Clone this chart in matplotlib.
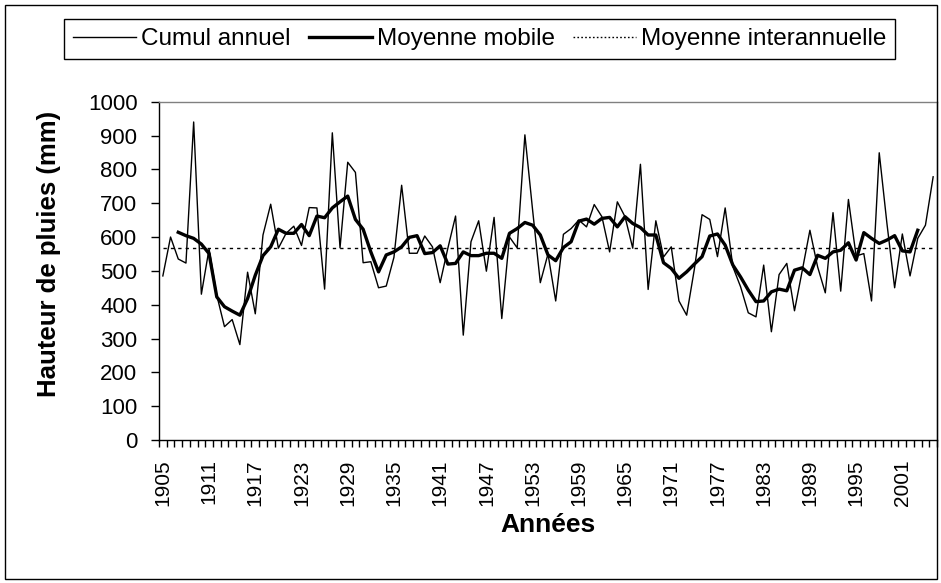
import numpy as np
import matplotlib.pyplot as plt
from matplotlib.patches import Rectangle
from matplotlib.lines import Line2D

plt.rcParams['font.family'] = ['Liberation Sans', 'DejaVu Sans']

# --- Data ---
years = list(range(1905, 2006))

cumul = [485, 600, 535, 523, 940, 431, 565, 428, 335, 356,
         282, 496, 373, 606, 697, 567, 611, 632, 575, 687,
         686, 446, 908, 568, 821, 791, 524, 527, 450, 455,
         540, 753, 552, 552, 603, 571, 465, 567, 662, 310,
         586, 648, 499, 658, 359, 600, 568, 902, 680, 465,
         550, 411, 608, 625, 650, 630, 696, 660, 556, 704,
         660, 567, 815, 445, 648, 541, 571, 411, 369, 505,
         666, 652, 542, 686, 512, 453, 376, 364, 517, 320,
         489, 522, 382, 500, 620, 512, 435, 672, 440, 711,
         544, 551, 411, 849, 640, 450, 609, 485, 596, 635,
         778]

moy_mobile = [np.nan, np.nan,
              614, 604, 596, 579, 551, 423, 394, 381,
              369, 418, 487, 545, 571, 623, 611, 611, 637, 604,
              662, 657, 686, 704, 721, 652, 623, 556, 497, 547,
              556, 571, 599, 604, 551, 554, 574, 520, 522, 556,
              545, 545, 552, 552, 537, 611, 625, 643, 635, 606,
              547, 530, 569, 586, 647, 653, 638, 655, 658, 630,
              660, 640, 628, 606, 606, 524, 507, 478, 497, 520,
              542, 603, 609, 576, 517, 482, 443, 409, 411, 438,
              446, 441, 502, 509, 489, 546, 537, 556, 561, 583,
              532, 613, 596, 581, 591, 604, 559, 556, 620,
              np.nan, np.nan]

moy_inter = 567

label_years = years[::6]

# --- Figure ---
fig = plt.figure(figsize=(9.41, 5.83), dpi=100)
ax = fig.add_axes([159 / 941, 1 - 440 / 583, 778 / 941, 338.3 / 583])

ax.plot(years, cumul, color='black', lw=1.0)
ax.plot(years, moy_mobile, color='black', lw=2.4)
ax.plot(years, [moy_inter] * len(years), color='black', lw=1.0,
        linestyle=(0, (2.4, 2.9)))

ax.set_xlim(years[0] - 0.5, years[-1] + 0.5)
ax.set_ylim(0, 1000)
ax.set_yticks(range(0, 1001, 100))

# category boundaries get the tick marks, labels every 6 years
ax.set_xticks(np.arange(years[0] - 0.5, years[-1] + 1.0, 1.0))
ax.set_xticklabels([])
ax.set_xticks(label_years, minor=True)
ax.set_xticklabels([str(y) for y in label_years], minor=True, rotation=90)
ax.tick_params(axis='x', which='major', direction='out', length=5, width=1)
ax.tick_params(axis='x', which='minor', length=0, pad=14, labelsize=15)
ax.tick_params(axis='y', direction='out', length=5.5, width=1, pad=10, labelsize=16)

for side in ['left', 'bottom']:
    ax.spines[side].set_color('black')
    ax.spines[side].set_linewidth(1.0)
for side in ['top', 'right']:
    ax.spines[side].set_color('#808080')
    ax.spines[side].set_linewidth(1.0)

ax.set_ylabel('Hauteur de pluies (mm)', fontsize=18.5, fontweight='bold')
ax.yaxis.set_label_coords(-0.126, 0.55)
ax.set_xlabel('Années', fontsize=19, fontweight='bold')
ax.xaxis.set_label_coords(0.5, -0.215)

# legend
handles = [Line2D([], [], color='black', lw=1.0),
           Line2D([], [], color='black', lw=2.4),
           Line2D([], [], color='black', lw=1.0, linestyle=(0, (1.2, 1.6)))]
labels = ['Cumul annuel', 'Moyenne mobile', 'Moyenne interannuelle']
leg = fig.legend(handles, labels, loc='center',
                 bbox_to_anchor=(479.5 / 941, 1 - 39 / 583), ncol=3,
                 fontsize=17.5, frameon=True, fancybox=False, framealpha=1,
                 edgecolor='black', handlelength=2.6, handletextpad=0.2,
                 columnspacing=0.75, borderpad=0.35)
leg.get_frame().set_linewidth(1.0)

# outer chart border
fig.patches.append(Rectangle((5 / 941, 4 / 583), 932 / 941, 574 / 583,
                             transform=fig.transFigure, fill=False,
                             edgecolor='black', lw=1.0))

fig.savefig('out.png', dpi=100)
